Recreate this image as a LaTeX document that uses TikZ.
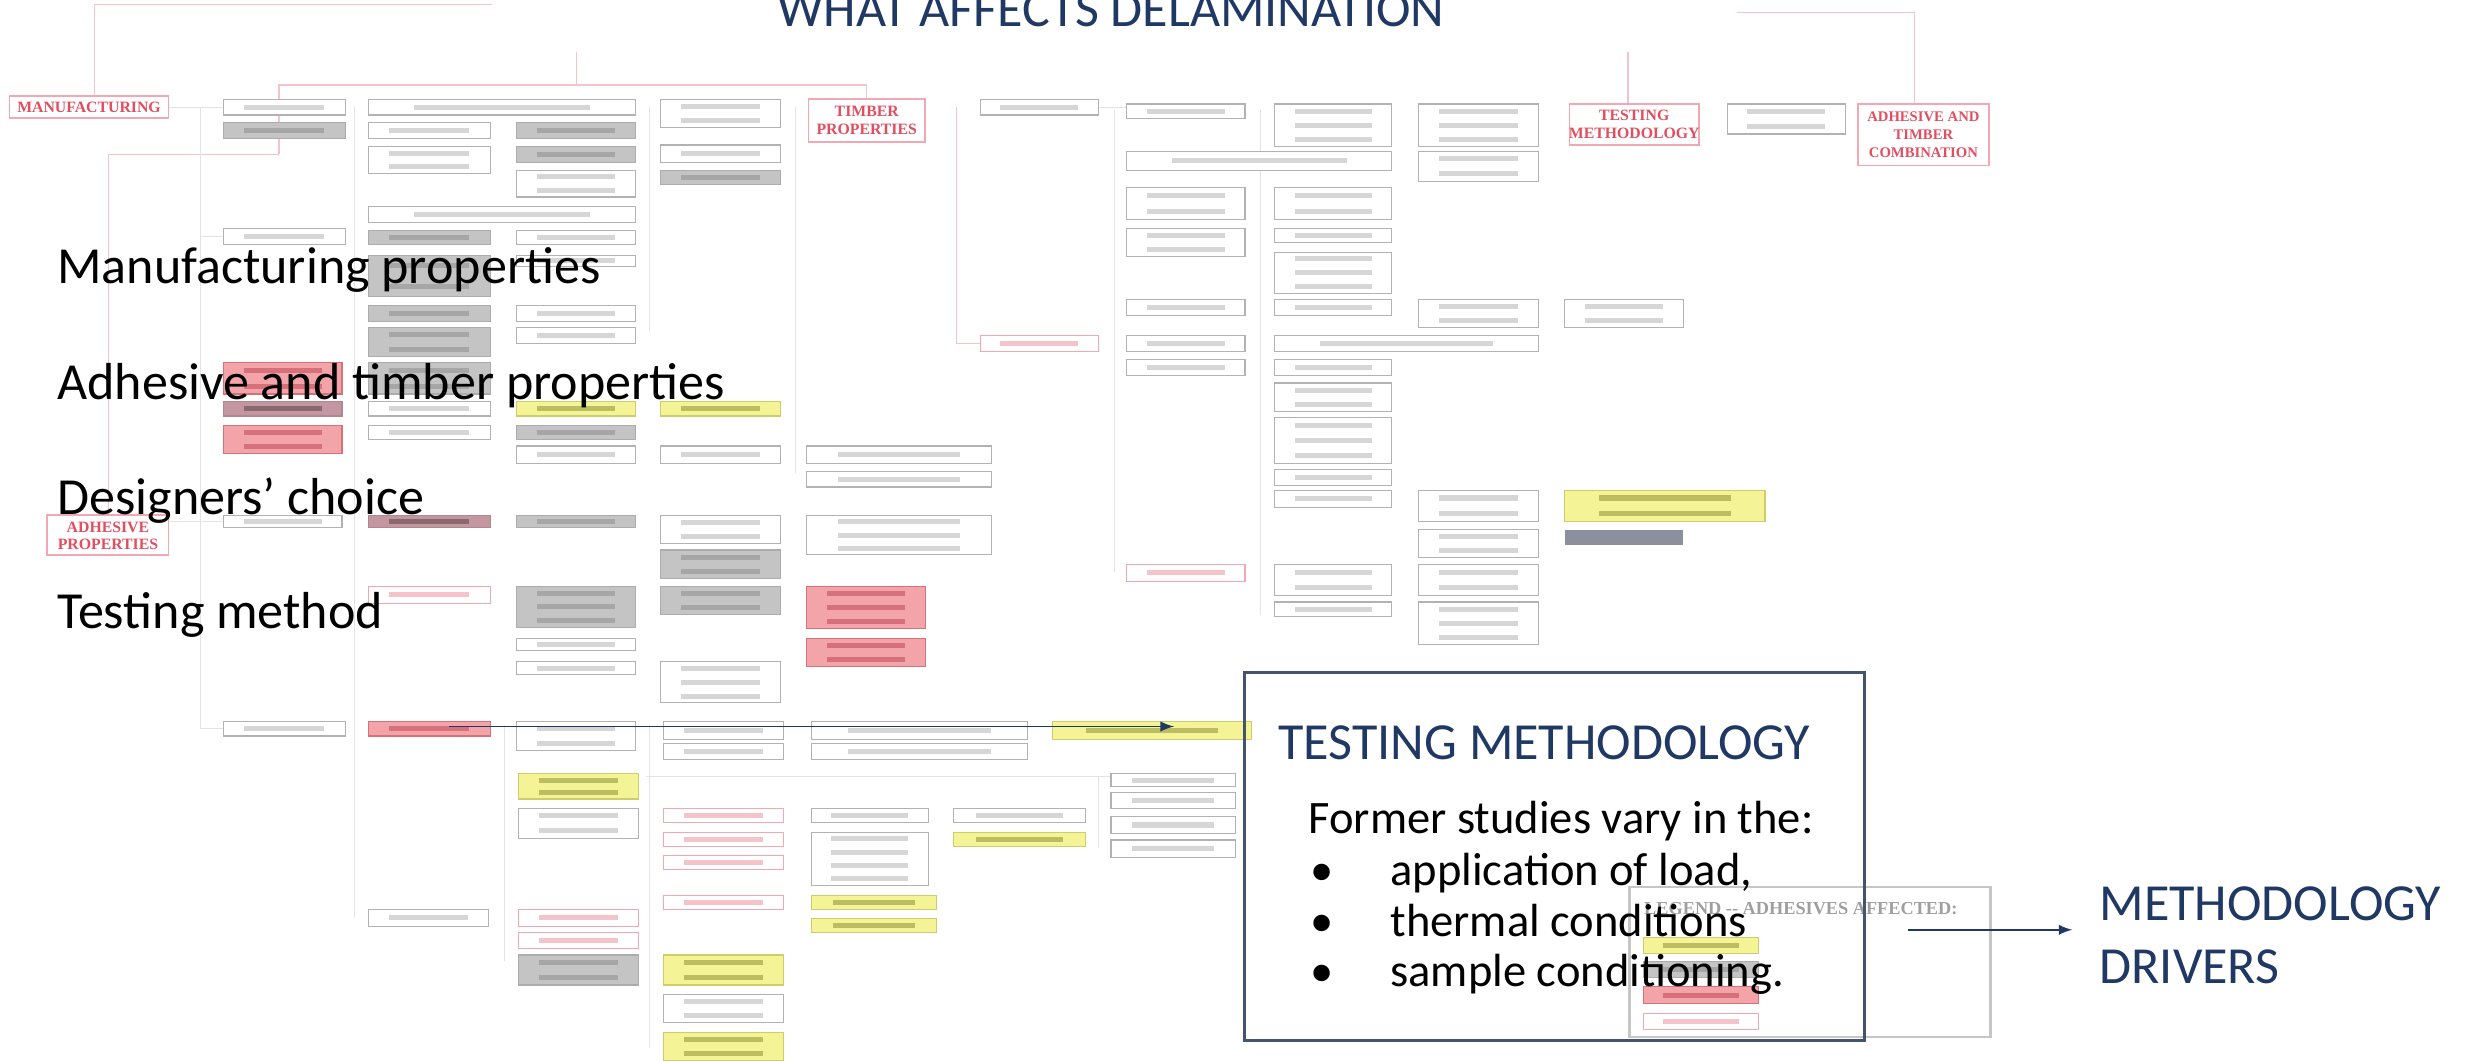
\documentclass[tikz,border=0pt]{standalone}
\usepackage{fontspec}
\setmainfont{Carlito}
\newfontfamily\headfont{Liberation Serif}
\usetikzlibrary{
  arrows
}
\definecolor{navy}{RGB}{31,56,100}
\definecolor{slate}{RGB}{68,84,106}
\definecolor{hred}{RGB}{226,78,96}
\definecolor{hpink}{RGB}{242,168,178}
\definecolor{lpink}{RGB}{244,196,202}
\definecolor{pinkfill}{RGB}{243,164,168}
\definecolor{pinkbar}{RGB}{214,112,122}
\definecolor{mauvefill}{RGB}{196,150,160}
\definecolor{yellowfill}{RGB}{244,244,150}
\definecolor{yellowdraw}{RGB}{205,205,110}
\definecolor{yellowbar}{RGB}{188,188,96}
\definecolor{greyfill}{RGB}{196,196,196}
\definecolor{bluegrey}{RGB}{140,144,158}
\tikzset{
  wbox/.style={draw=gray!60, fill=white, line width=0.4pt},
  gbox/.style={draw=gray!65, fill=greyfill, line width=0.4pt},
  ybox/.style={draw=yellowdraw, fill=yellowfill, line width=0.4pt},
  pbox/.style={draw=pinkbar, fill=pinkfill, line width=0.4pt},
  mbox/.style={draw=mauvefill!90!black, fill=mauvefill, line width=0.4pt},
  lpbox/.style={draw=hpink, fill=white, line width=0.4pt},
  hbox/.style={draw=hpink, fill=white, line width=0.6pt},
  htext/.style={text=hred, font=\headfont\bfseries\fontsize{5.7}{6.4}\selectfont, align=center, inner sep=0},
  pinkline/.style={draw=lpink, line width=0.5pt},
  greyline/.style={draw=gray!22, line width=0.4pt},
  bigtext/.style={anchor=base west, inner sep=0, font=\fontsize{18.8}{22}\selectfont},
  smalltext/.style={anchor=base west, inner sep=0, font=\fontsize{16.8}{20}\selectfont}
}
\newcommand{\boxset}[3]{%
  \foreach \xa/\ya/\xb/\yb/\nb in {#3} {
    \draw[#1] (\xa,\ya) rectangle (\xb,\yb);
    \foreach \k in {1,...,\nb} {
      \pgfmathsetmacro{\yc}{\ya+(\yb-\ya)*(\k-0.5)/\nb}
      \fill[#2] ({\xa+0.17*(\xb-\xa)},{\yc-1.6}) rectangle ({\xb-0.17*(\xb-\xa)},{\yc+1.6});
    }
  }%
}

\begin{document}
\begin{tikzpicture}[x=0.02cm, y=-0.02cm]
        \useasboundingbox (0,0) rectangle (1568,673);
        \clip (0,0) rectangle (1568,673);
        % tree behind the slide
        \draw[pinkline] (60,61) -- (60,3) -- (312,3);
        \draw[pinkline] (1102,8) -- (1215,8) -- (1215,66);
        \draw[pinkline] (366,33) -- (366,54);
        \draw[pinkline] (177,98) -- (177,54) -- (550,54) -- (550,63);
        \draw[pinkline] (177,98) -- (69,98) -- (69,327);
        \draw[pinkline] (1033,33) -- (1033,66);
        \draw[pinkline] (607,68) -- (607,218) -- (622,218);
        \draw[greyline] (127,68) -- (127,462);
        \draw[greyline] (107,68) -- (142,68);
        \draw[greyline] (127,150) -- (142,150);
        \draw[greyline] (107,331) -- (142,331);
        \draw[greyline] (127,462) -- (142,462);
        \draw[greyline] (225,68) -- (225,582);
        \draw[greyline] (412,68) -- (412,210);
        \draw[greyline] (505,68) -- (505,300);
        \draw[greyline] (697,68) -- (715,68);
        \draw[greyline] (707,70) -- (707,363);
        \draw[greyline] (800,70) -- (800,390);
        \draw[greyline] (410,493) -- (705,493);
        \draw[greyline] (697,493) -- (697,538);
        \draw[greyline] (320,460) -- (320,610);
        \draw[greyline] (412,460) -- (412,665);
        \boxset{wbox}{gray!32}{142/63/219/73/1, 234/63/403/73/1, 234/78/311/88/1, 234/93/311/110/2,
          328/108/403/125/2, 419/63/495/81/2, 419/92/495/103/1, 234/131/403/141/1, 142/145/219/155/1,
          328/146/403/155/1, 328/162/403/169/1, 328/194/403/204/1, 328/208/403/218/1, 234/255/311/264/1,
          234/270/311/279/1, 328/283/403/294/1, 419/283/495/294/1, 512/283/629/294/1, 512/299/629/309/1,
          142/327/217/335/1, 419/327/495/345/2, 512/327/629/352/3, 328/405/403/413/1, 328/420/403/428/1,
          419/420/495/446/3, 142/458/219/467/1, 328/458/403/476/2, 421/458/497/469/1, 421/472/497/482/1,
          515/458/652/469/1, 515/472/652/482/1, 329/513/405/532/2, 515/513/589/522/1, 515/528/589/562/4,
          605/513/689/522/1, 705/491/784/499/1, 705/503/784/513/1, 705/518/784/529/1, 705/533/784/544/1,
          234/577/310/588/1, 421/631/497/649/2, 622/63/697/73/1, 715/66/790/75/1, 809/66/883/93/3,
          900/66/976/93/3, 1096/66/1171/85/2, 715/96/883/108/1, 900/96/976/115/2, 715/119/790/139/2,
          809/119/883/139/2, 715/145/790/163/2, 809/145/883/154/1, 809/160/883/186/3, 715/190/790/200/1,
          809/190/883/200/1, 900/190/976/208/2, 993/190/1068/208/2, 715/213/790/223/1, 809/213/976/223/1,
          715/228/790/238/1, 809/228/883/238/1, 809/243/883/261/2, 809/265/883/294/3, 809/298/883/308/1,
          809/311/883/322/1, 900/311/976/331/2, 900/336/976/354/2, 809/358/883/378/2, 900/358/976/378/2,
          809/382/883/391/1, 900/382/976/409/3}
        \boxset{gbox}{gray!70}{142/78/219/88/1, 328/78/403/88/1, 328/93/403/103/1, 419/108/495/117/1,
          234/146/311/155/1, 234/162/311/188/2, 234/194/311/204/1, 234/208/311/226/2, 234/230/311/250/2,
          328/270/403/279/1, 328/327/403/335/1, 419/349/495/367/2, 328/372/403/398/3, 419/372/495/390/2,
          329/606/405/625/2}
        \boxset{ybox}{yellowbar}{328/255/403/264/1, 419/255/495/264/1, 668/458/794/469/1, 329/491/405/507/2,
          515/568/594/577/1, 515/583/594/592/1, 605/528/689/537/1, 421/606/497/625/2, 421/655/497/673/2,
          993/311/1120/331/2}
        \boxset{pbox}{pinkbar}{142/230/217/250/2, 142/270/217/288/2, 512/372/587/399/3, 512/405/587/423/2,
          234/458/311/467/1}
        \boxset{mbox}{mauvefill!70!black}{142/255/217/264/1, 234/327/311/335/1}
        \boxset{lpbox}{lpink}{234/372/311/383/1, 421/513/497/522/1, 421/528/497/537/1, 421/543/497/552/1,
          421/568/497/577/1, 329/577/405/588/1, 329/592/405/602/1, 622/213/697/223/1, 715/358/790/369/1}
        \fill[bluegrey] (993,336) rectangle (1068,346);
        \draw[hbox] (6,61) rectangle (107,75);
        \draw[hbox] (513,63) rectangle (587,90);
        \draw[hbox] (996,66) rectangle (1078,92);
        \draw[hbox] (1179,66) rectangle (1262,105);
        \draw[hbox] (30,327) rectangle (107,352);
        \node[htext] (manuf) at (56.5,68) {MANUFACTURING};
        \node[htext] (timber) at (550,76.5) {TIMBER\\PROPERTIES};
        \node[htext] (testing) at (1037,79) {TESTING\\METHODOLOGY};
        \node[htext, font=\headfont\bfseries\fontsize{5.3}{6.6}\selectfont] (combi) at (1220.5,85.5) {ADHESIVE AND\\TIMBER\\COMBINATION};
        \node[htext] (adprop) at (68.5,340) {ADHESIVE\\PROPERTIES};
        \draw[gray!45, line width=0.9pt] (1034,563) rectangle (1263,658);
        \node[anchor=base west, inner sep=0, text=gray!75, font=\headfont\bfseries\fontsize{6.6}{7.5}\selectfont] (legend) at (1043,580) {LEGEND -- ADHESIVES AFFECTED:};
        \boxset{ybox}{yellowbar}{1043/595/1116/605/1}
        \boxset{gbox}{gray!70}{1043/610/1116/620/1}
        \boxset{pbox}{pinkbar}{1043/626/1116/637/1}
        \boxset{lpbox}{lpink}{1043/643/1116/653/1}
        % slide text
        \node[bigtext, text=navy] (title) at (493,16.5) {WHAT AFFECTS DELAMINATION};
        \node[bigtext] (manutxt) at (36,179.8) {Manufacturing properties};
        \node[bigtext] (adhtxt) at (36,253.7) {Adhesive and timber properties};
        \node[bigtext] (destxt) at (36,326.7) {Designers’ choice};
        \node[bigtext] (testtxt) at (36,398.6) {Testing method};
        \draw[slate, line width=1.1pt] (789.7,427) rectangle (1183,660);
        \node[bigtext, text=navy] (methhead) at (811,482) {TESTING METHODOLOGY};
        \node[smalltext] (former) at (830,529) {Former studies vary in the:};
        \node[smalltext] (b1) at (831,562) {\textbullet};
        \node[smalltext] (b2) at (831,594.5) {\textbullet};
        \node[smalltext] (b3) at (831,626) {\textbullet};
        \node[smalltext] (load) at (882,562) {application of load,};
        \node[smalltext] (therm) at (882,594.5) {thermal conditions};
        \node[smalltext] (sample) at (882,626) {sample conditioning.};
        \node[bigtext, text=navy] (meth) at (1332,583.8) {METHODOLOGY};
        \node[bigtext, text=navy] (drivers) at (1332,624) {DRIVERS};
        \coordinate (lstart) at (285,461);
        \coordinate (lend) at (745,461);
        \coordinate (rstart) at (1211,590);
        \coordinate (rend) at (1315,590);
        \draw[-latex, navy, line width=0.7pt] (lstart) -- (lend);
        \draw[-latex, navy, line width=0.7pt] (rstart) -- (rend);
\end{tikzpicture}
\end{document}
